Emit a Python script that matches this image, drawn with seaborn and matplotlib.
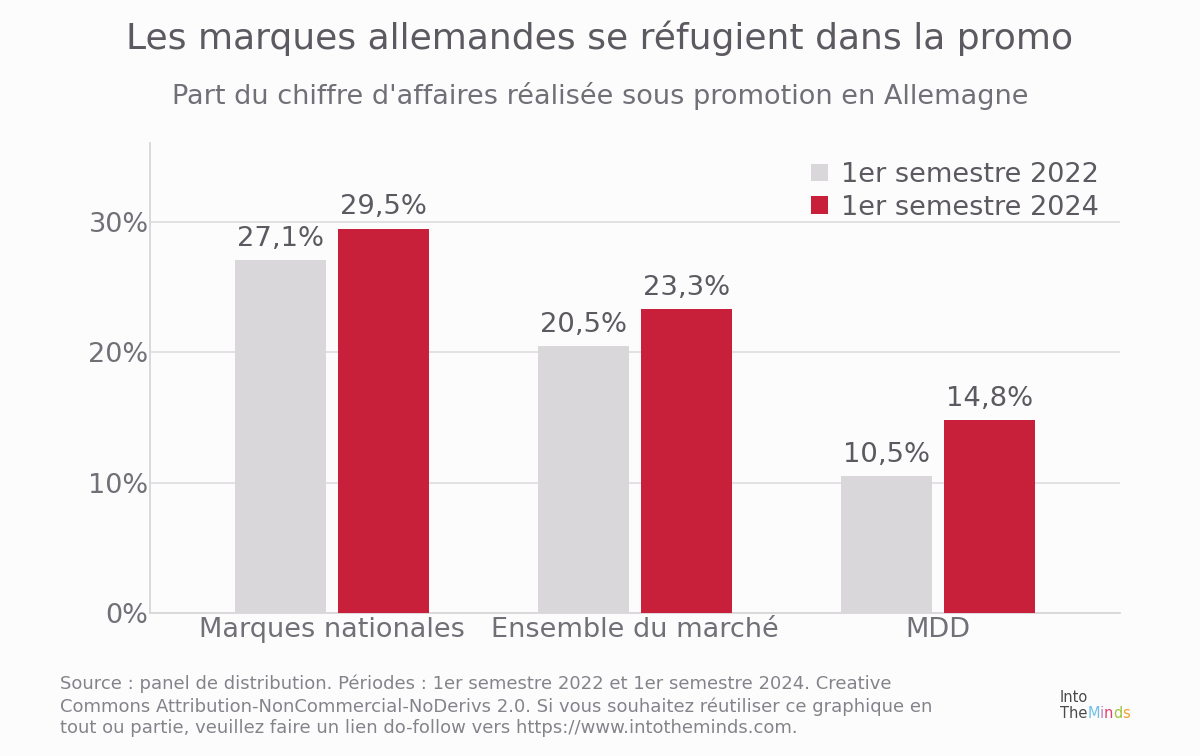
import matplotlib
matplotlib.use("Agg")
import matplotlib.pyplot as plt
import seaborn as sns
import pandas as pd

categories = ["Marques nationales", "Ensemble du marché", "MDD"]
series_names = ["1er semestre 2022", "1er semestre 2024"]
values_2022 = [27.1, 20.5, 10.5]
values_2024 = [29.5, 23.3, 14.8]
y_ticks = [0, 10, 20, 30]
y_tick_labels = ["0%", "10%", "20%", "30%"]

title = "Les marques allemandes se réfugient dans la promo"
subtitle = "Part du chiffre d'affaires réalisée sous promotion en Allemagne"
source = ("Source : panel de distribution. Périodes : 1er semestre 2022 et 1er semestre 2024. Creative\n"
          "Commons Attribution-NonCommercial-NoDerivs 2.0. Si vous souhaitez réutiliser ce graphique en\n"
          "tout ou partie, veuillez faire un lien do-follow vers https://www.intotheminds.com.")

df = pd.DataFrame({
    "cat": categories * 2,
    "serie": [series_names[0]] * 3 + [series_names[1]] * 3,
    "val": values_2022 + values_2024,
})

sns.set_theme(style="white")
plt.rcParams["font.family"] = ["DejaVu Sans"]
bg = "#FDFCFD"
fig = plt.figure(figsize=(12, 7.56), dpi=100, facecolor=bg)
ax = fig.add_axes([0.125, 1 - 613 / 756, (1120 - 150) / 1200, (613 - 143) / 756])
ax.set_facecolor(bg)

palette = {series_names[0]: "#D9D7DA", series_names[1]: "#C8203B"}
sns.barplot(data=df, x="cat", y="val", hue="serie", palette=palette, width=0.676, gap=0.11,
            ax=ax, saturation=1, errorbar=None, zorder=3, linewidth=0)

ax.set_xlim(-0.6, 2.6)
ax.set_ylim(0, 36.07)
ax.set_yticks(y_ticks)
ax.set_yticklabels(y_tick_labels)
ax.set_xlabel("")
ax.set_ylabel("")
ax.grid(axis="y", color="#E2DFE2", linewidth=1.3, zorder=0)
for s in ["top", "right"]:
    ax.spines[s].set_visible(False)
for s in ["left", "bottom"]:
    ax.spines[s].set_color("#D8D6D8")
    ax.spines[s].set_linewidth(1.3)
ax.tick_params(axis="both", length=0, labelsize=19.5, labelcolor="#727077")
ax.tick_params(axis="x", pad=3)
ax.tick_params(axis="y", pad=1)

for cont in ax.containers:
    labels = [f"{v:.1f}%".replace(".", ",") for v in cont.datavalues]
    ax.bar_label(cont, labels=labels, padding=6, fontsize=19.7, color="#5C5A60")

leg = ax.legend(loc="upper right", bbox_to_anchor=(0.998, 1.0), frameon=False, fontsize=19.5,
                handlelength=0.62, handleheight=0.62, handletextpad=0.5, labelspacing=0.25,
                borderaxespad=0.3)
for t in leg.get_texts():
    t.set_color("#5C5A60")

fig.text(0.5, 1 - 38 / 756, title, ha="center", va="center", fontsize=26, color="#5C5A60")
fig.text(0.5, 1 - 96 / 756, subtitle, ha="center", va="center", fontsize=19.5, color="#727077")
fig.text(60 / 1200, 1 - 706 / 756, source, ha="left", va="center", fontsize=13, color="#85838A",
         linespacing=1.25)

# logo text
fig.text(1060 / 1200, 1 - 697 / 756, "Into", ha="left", va="center", fontsize=10.5, color="#4A4A4A")
letters = [("The", "#4A4A4A"), ("M", "#6EC1E4"), ("i", "#C87BC0"), ("n", "#E0406E"), ("d", "#9BC53D"), ("s", "#F0A030")]
xpos = 1060 / 1200
for s, c in letters:
    t = fig.text(xpos, 1 - 713 / 756, s, ha="left", va="center", fontsize=10.5, color=c)
    fig.canvas.draw()
    bb = t.get_window_extent()
    xpos = (bb.x1) / fig.bbox.width

fig.savefig("out.png", dpi=100, facecolor=bg)
